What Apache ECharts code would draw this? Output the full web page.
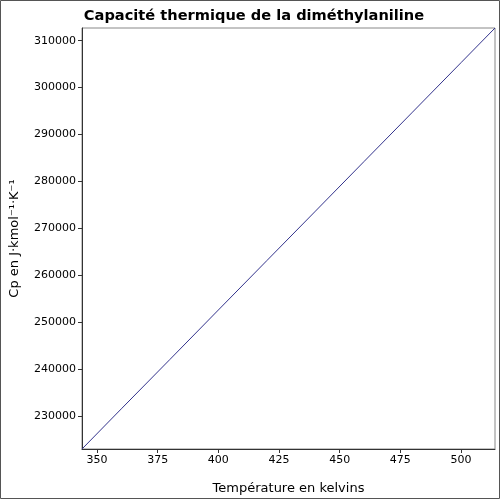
<!DOCTYPE html>
<html><head><meta charset="utf-8">
<script src="https://cdn.jsdelivr.net/npm/echarts@6/dist/echarts.min.js"></script>
<style>html,body{margin:0;padding:0;background:#fff}#c{width:500px;height:500px}</style>
</head><body><div id="c"></div>
<script>
var temperatures = [343.8, 360, 380, 400, 420, 440, 460, 480, 500, 514];
var cpValues = [223050, 231600, 242100, 252650, 263180, 273700, 284250, 294780, 305320, 312700];
var xTicks = [350, 375, 400, 425, 450, 475, 500];
var yTicks = [230000, 240000, 250000, 260000, 270000, 280000, 290000, 300000, 310000];
var titleText = 'Capacité thermique de la diméthylaniline';
var xName = 'Température en kelvins';
var yName = 'Cp en J·kmol⁻¹·K⁻¹';

var chart = echarts.init(document.getElementById('c'), null, {renderer: 'canvas'});
var font = 'DejaVu Sans';
function plain(v) { return String(v); }
chart.setOption({
  animation: false,
  backgroundColor: '#fff',
  title: {text: titleText, left: 249, top: 4, textAlign: 'center',
    textStyle: {fontFamily: font, fontWeight: 'bold', fontSize: 14.6, color: '#000'}},
  grid: {left: 81, right: 5, top: 28, bottom: 46, show: true, borderColor: '#888', borderWidth: 1},
  graphic: [{type: 'rect', shape: {x: 0.5, y: 0.5, width: 499, height: 498}, style: {fill: 'none', stroke: '#555', lineWidth: 1}, silent: true}],
  xAxis: {type: 'value', min: temperatures[0], max: temperatures[temperatures.length - 1],
    name: xName, nameLocation: 'middle', nameGap: 33,
    nameTextStyle: {fontFamily: font, fontSize: 13, color: '#000'},
    axisLine: {show: true, lineStyle: {color: '#333', width: 1}},
    axisTick: {show: true, length: 4, customValues: xTicks, lineStyle: {color: '#333'}},
    axisLabel: {customValues: xTicks, formatter: plain, fontFamily: font, fontSize: 11, color: '#000', margin: 6},
    splitLine: {show: false}},
  yAxis: {type: 'value', min: cpValues[0], max: cpValues[cpValues.length - 1],
    name: yName, nameLocation: 'middle', nameGap: 61,
    nameTextStyle: {fontFamily: font, fontSize: 13, color: '#000'},
    axisLine: {show: true, lineStyle: {color: '#333', width: 1}},
    axisTick: {show: true, length: 4, customValues: yTicks, lineStyle: {color: '#333'}},
    axisLabel: {customValues: yTicks, formatter: plain, fontFamily: font, fontSize: 11, color: '#000', margin: 6},
    splitLine: {show: false}},
  series: [{type: 'line', data: temperatures.map(function (t, i) { return [t, cpValues[i]]; }),
    showSymbol: false, lineStyle: {color: '#33338c', width: 1}}]
});
</script></body></html>
